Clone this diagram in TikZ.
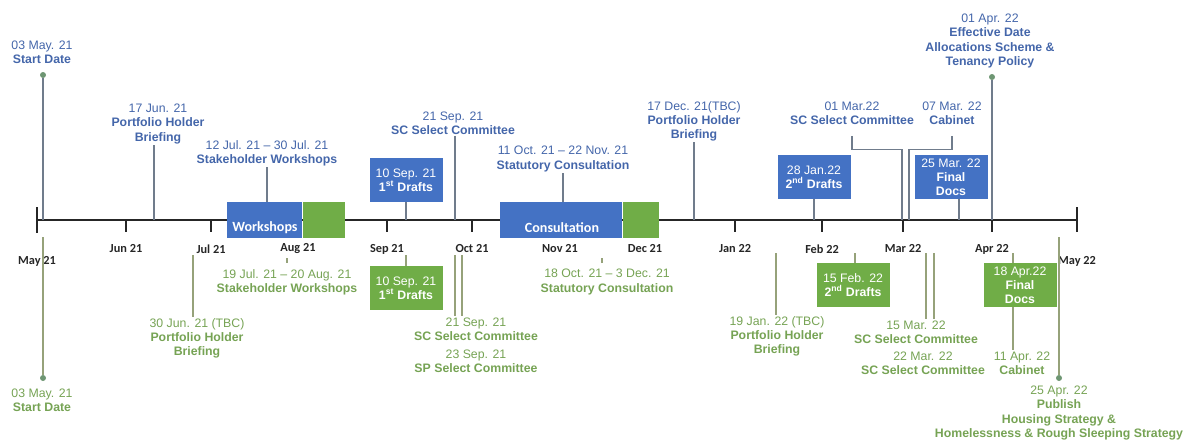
\documentclass[tikz,border=0pt]{standalone}
\usepackage{fontspec}
\setmainfont{Liberation Sans}
\newfontfamily\calib{Carlito}
\usetikzlibrary{positioning}

\definecolor{topblue}{RGB}{68,102,170}
\definecolor{botgreen}{RGB}{118,163,84}
\definecolor{boxblue}{RGB}{68,114,196}
\definecolor{boxgreen}{RGB}{112,173,71}
\definecolor{toplinec}{RGB}{112,124,140}
\definecolor{botlinec}{RGB}{150,162,122}
\definecolor{dotc}{RGB}{110,150,115}
\newcommand{\tlfont}{\fontsize{10.5}{12}\selectfont}

\tikzset{
  toptext/.style={text=topblue, align=center, font=\tlfont, inner sep=1pt},
  bottext/.style={text=botgreen, align=center, font=\tlfont, inner sep=1pt},
  box/.style={align=center, text=white, font=\tlfont, minimum width=2.19cm, minimum height=1.3cm, inner sep=1pt},
  bluebox/.style={box, fill=boxblue},
  greenbox/.style={box, fill=boxgreen},
  bar/.style={minimum height=1.08cm, inner sep=0pt, anchor=north west},
  bartext/.style={text=white, font=\calib\bfseries\fontsize{12}{14}\selectfont},
  month/.style={text=black!85, font=\calib\bfseries\fontsize{10.5}{12}\selectfont},
  axisline/.style={draw=black!85, line width=1.4pt},
  tline/.style={draw=toplinec, line width=1pt},
  bline/.style={draw=botlinec, line width=1pt},
  dot/.style={circle, fill=dotc, inner sep=0pt, minimum size=0.18cm},
}

\begin{document}
\begin{tikzpicture}[x=0.03cm, y=-0.03cm]
    \useasboundingbox (0,0) rectangle (1188,439);

    % time axis
    \coordinate (ax) at (0,220);
    \coordinate (bx) at (0,255);
    \coordinate (bx0) at (0,237);
    \coordinate (axL) at (37,220);
    \coordinate (axR) at (1077,220);
    \draw[axisline] (axL) -- (axR);
    \draw[axisline] (37,207) -- (37,233);
    \draw[axisline] (1077,207) -- (1077,232);
    \node[month] (m-may21) at (37,261) {May 21};
    \node[month] (m-may22) at (1077,261) {May 22};
    \foreach \x/\m in {126/Jun 21, 211/Jul 21, 298/Aug 21, 387/Sep 21, 472/Oct 21,
        560/Nov 21, 645/Dec 21, 735/Jan 22, 822/Feb 22, 903/Mar 22, 992/Apr 22}{
        \draw[axisline] (\x,220) -- (\x,232);
        \node[month] (m-\x) at (\x,249) {\m};
    }

    % bars
    \node[bar, fill=boxblue, minimum width=2.25cm] (wsb) at (227,202) {};
    \node[bar, fill=boxgreen, minimum width=1.26cm] (wsg) at (wsb.north east) {};
    \node[bartext] (wst) at (265,228) {Workshops};
    \node[bar, fill=boxblue, minimum width=3.66cm] (csb) at (500,202) {};
    \node[bar, fill=boxgreen, minimum width=1.08cm] (csg) at (csb.north east) {};
    \node[bartext] (cst) at (562,228) {Consultation};

    % axis points of the connectors
    \coordinate (c-jun17) at (154,220);
    \coordinate (c-sep10) at (406,220);
    \coordinate (c-sep21) at (455,220);
    \coordinate (c-dec17) at (694,220);
    \coordinate (c-jan28) at (814,220);
    \coordinate (c-mar1) at (902,220);
    \coordinate (c-mar7) at (909,220);
    \coordinate (c-mar25) at (959,220);

    % planned dates (above)
    \node[dot] (sdot) at (43,75) {};
    \node[toptext] (start) at (42,52) {03 May. 21\\\textbf{Start Date}};
    \draw[tline] (sdot) -- (sdot |- ax);

    \node[toptext] (phb1) at (158,124) {17 Jun. 21\\\textbf{Portfolio Holder}\\\textbf{Briefing}};
    \draw[tline] (phb1.south -| c-jun17) -- (c-jun17);

    \node[toptext] (swk1) at (267,153) {12 Jul. 21 \textendash{} 30 Jul. 21\\\textbf{Stakeholder Workshops}};
    \draw[tline] (swk1.south) -- (swk1.south |- wsb.north);

    \node[bluebox] (drf1) at (406,180) {10 Sep. 21\\\textbf{1\textsuperscript{st} Drafts}};
    \draw[tline] (drf1.south -| c-sep10) -- (c-sep10);

    \node[toptext] (scc1) at (453,123) {21 Sep. 21\\\textbf{SC Select Committee}};
    \draw[tline] (scc1.south -| c-sep21) -- (c-sep21);

    \node[toptext] (stc1) at (563,159) {11 Oct. 21 \textendash{} 22 Nov. 21\\\textbf{Statutory Consultation}};
    \draw[tline] (stc1.south) -- (stc1.south |- csb.north);

    \node[toptext] (phb2) at (694,121) {17 Dec. 21(TBC)\\\textbf{Portfolio Holder}\\\textbf{Briefing}};
    \draw[tline] (phb2.south -| c-dec17) -- (c-dec17);

    \node[bluebox] (drf2) at (814,177) {28 Jan.22\\\textbf{2\textsuperscript{nd} Drafts}};
    \draw[tline] (drf2.south -| c-jan28) -- (c-jan28);

    \node[toptext] (scc2) at (852,113) {01 Mar.22\\\textbf{SC Select Committee}};
    \draw[tline] ([yshift=-0.3cm]scc2.south) -- ++(0,14) -| (c-mar1);

    \node[toptext] (cab1) at (952,113) {07 Mar. 22\\\textbf{Cabinet}};
    \draw[tline] ([yshift=-0.3cm]cab1.south) -- ++(0,14) -| (c-mar7);

    \node[bluebox] (fin1) at (951,177) {25 Mar. 22\\\textbf{Final}\\\textbf{Docs}};
    \draw[tline] (fin1.south -| c-mar25) -- (c-mar25);

    \node[dot] (edot) at (992,77) {};
    \node[toptext] (eff1) at (990,41) {01 Apr. 22\\\textbf{Effective Date}\\\textbf{Allocations Scheme \&}\\\textbf{Tenancy Policy}};
    \draw[tline] (edot) -- (edot |- ax);

    % actual dates (below)
    \coordinate (g-jun30) at (193,255);
    \coordinate (g-sep21) at (455,255);
    \coordinate (g-sep23) at (462,255);
    \coordinate (g-jan19) at (776,253);
    \coordinate (g-feb15) at (855,253);
    \coordinate (g-mar15) at (926,253);
    \coordinate (g-mar22) at (934,253);
    \coordinate (g-apr18) at (1013,253);

    \node[dot] (gsdot) at (43,378) {};
    \node[bottext] (gstart) at (42,400) {03 May. 21\\\textbf{Start Date}};
    \draw[bline] (gsdot) -- (gsdot |- bx0);

    \node[bottext] (gphb1) at (197,338) {30 Jun. 21 (TBC)\\\textbf{Portfolio Holder}\\\textbf{Briefing}};
    \draw[bline] (g-jun30) -- (g-jun30 |- gphb1.north);

    \node[bottext] (gswk1) at (287,282) {19 Jul. 21 \textendash{} 20 Aug. 21\\\textbf{Stakeholder Workshops}};
    \draw[bline] ([yshift=0.15cm]gswk1.north) -- ++(0,-5);

    \node[greenbox] (gdrf1) at (406,288) {10 Sep. 21\\\textbf{1\textsuperscript{st} Drafts}};
    \draw[bline] (gdrf1.north) -- (gdrf1.north |- bx);

    \node[bottext] (gscc1) at (476,329) {21 Sep. 21\\\textbf{SC Select Committee}};
    \node[bottext] (gspc1) at (476,361) {23 Sep. 21\\\textbf{SP Select Committee}};
    \draw[bline] (g-sep21) -- (g-sep21 |- gscc1.north);
    \draw[bline] (g-sep23) -- (g-sep23 |- gscc1.north);

    \node[bottext] (gstc1) at (607,282) {18 Oct. 21 \textendash{} 3 Dec. 21\\\textbf{Statutory Consultation}};
    \draw[bline] ([xshift=-0.15cm, yshift=0.15cm]gstc1.north) -- ++(0,-5);

    \node[bottext] (gphb2) at (777,336) {19 Jan. 22 (TBC)\\\textbf{Portfolio Holder}\\\textbf{Briefing}};
    \draw[bline] (g-jan19) -- (g-jan19 |- gphb2.north);

    \node[greenbox] (gdrf2) at (853,285) {15 Feb. 22\\\textbf{2\textsuperscript{nd} Drafts}};
    \draw[bline] (g-feb15) -- (g-feb15 |- gdrf2.north);

    \node[bottext] (gscc2) at (916,332) {15 Mar. 22\\\textbf{SC Select Committee}};
    \node[bottext] (gscc3) at (923,363) {22 Mar. 22\\\textbf{SC Select Committee}};
    \draw[bline] (g-mar15) -- (g-mar15 |- gscc2.north);
    \draw[bline] (g-mar22) -- (g-mar22 |- gscc2.north);

    \node[greenbox] (gfin1) at (1020,285) {18 Apr.22\\\textbf{Final}\\\textbf{Docs}};
    \node[bottext] (gcab1) at (1022,363) {11 Apr. 22\\\textbf{Cabinet}};
    \draw[bline] (g-apr18) -- (g-apr18 |- gfin1.north);
    \draw[bline] (gfin1.south -| g-apr18) -- (gcab1.north -| g-apr18);

    \node[dot] (gpdot) at (1059,378) {};
    \node[bottext] (gpub) at (1059,413) {25 Apr. 22\\\textbf{Publish}\\\textbf{Housing Strategy \&}\\\textbf{Homelessness \& Rough Sleeping Strategy}};
    \draw[bline] (gpdot) -- (gpdot |- bx0);
\end{tikzpicture}
\end{document}
